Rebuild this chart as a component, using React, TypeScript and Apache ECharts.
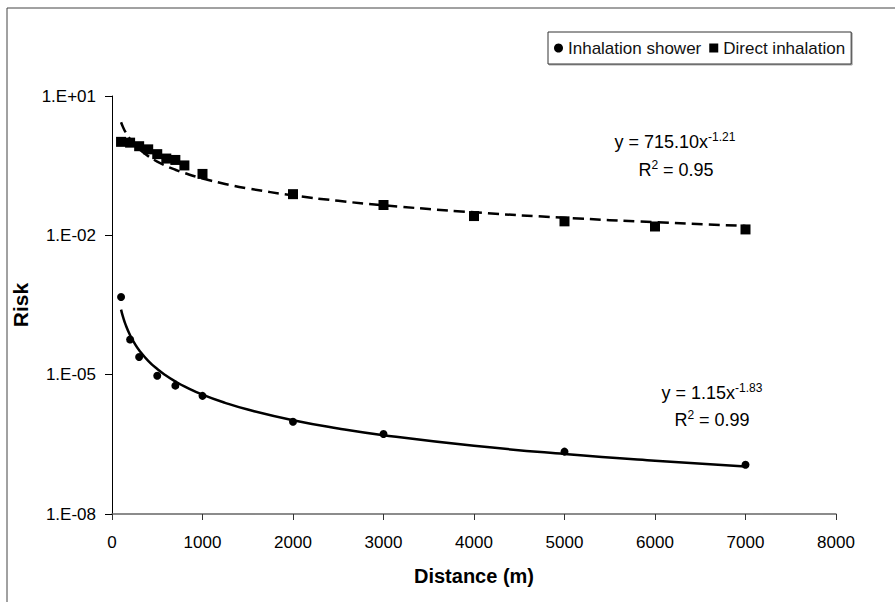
import React, { useEffect, useRef } from "react";
import * as echarts from "echarts";

// Data
const showerDistance = [100, 200, 300, 500, 700, 1000, 2000, 3000, 5000, 7000];
const showerRisk = [4.7e-4, 5.7e-5, 2.4e-5, 9.5e-6, 5.8e-6, 3.5e-6, 9.7e-7, 5.3e-7, 2.2e-7, 1.15e-7];

const directDistance = [100, 200, 300, 400, 500, 600, 700, 800, 1000, 2000, 3000, 4000, 5000, 6000, 7000];
const directRisk = [1.03, 0.99, 0.83, 0.71, 0.56, 0.45, 0.42, 0.32, 0.21, 0.077, 0.045, 0.026, 0.02, 0.0155, 0.0134];

// Power trendlines as printed on the chart: y = a * x^b
const showerFit = { a: 1.15, b: -1.83 };
const directFit = { a: 715.1, b: -1.21 };
const trendX = [100, 120, 150, 200, 250, 300, 400, 500, 600, 700, 800, 1000, 1250, 1500, 2000, 2500, 3000, 4000, 5000, 6000, 7000];

const yTicks = [1e-8, 1e-5, 1e-2, 10];
const seriesNames = ["Inhalation shower", "Direct inhalation"];

const FONT = "Liberation Sans, Arial, sans-serif";

function fmtLog(v: number): string {
  const e = Math.round(Math.log10(v));
  return "1.E" + (e >= 0 ? "+" : "-") + String(Math.abs(e)).padStart(2, "0");
}

export default function App() {
  const ref = useRef<HTMLDivElement>(null);
  useEffect(() => {
    if (!ref.current) return;
    const chart = echarts.init(ref.current, null, { renderer: "svg" });
    const showerData = showerDistance.map((d, i) => [d, showerRisk[i]]);
    const directData = directDistance.map((d, i) => [d, directRisk[i]]);
    const showerTrend = trendX.map((x) => [x, showerFit.a * Math.pow(x, showerFit.b)]);
    const directTrend = trendX.map((x) => [x, directFit.a * Math.pow(x, directFit.b)]);

    const eqRich = {
      a: { fontSize: 18, fontFamily: FONT, color: "#111", lineHeight: 22 },
      s: { fontSize: 12, fontFamily: FONT, color: "#111", verticalAlign: "top", lineHeight: 14 },
    };

    chart.setOption({
      animation: false,
      backgroundColor: "#fff",
      grid: { left: 112, right: 59, top: 96, bottom: 88, containLabel: false },
      legend: {
        left: 548,
        top: 32,
        data: [
          { name: seriesNames[0], icon: "circle" },
          { name: seriesNames[1], icon: "rect" },
        ],
        itemWidth: 9,
        itemHeight: 9,
        itemGap: 8,
        padding: [7, 6, 7, 6],
        borderColor: "#333",
        borderWidth: 1,
        shadowColor: "rgba(0,0,0,0.35)",
        shadowOffsetX: 1,
        shadowOffsetY: 1,
        shadowBlur: 1,
        backgroundColor: "#fff",
        itemStyle: { opacity: 1 },
        textStyle: { fontSize: 17, fontFamily: FONT, color: "#111", lineHeight: 18 },
      },
      xAxis: {
        type: "value",
        min: 0,
        max: 8000,
        interval: 1000,
        name: "Distance (m)",
        nameLocation: "middle",
        nameGap: 52,
        nameTextStyle: { fontSize: 20, fontWeight: "bold", fontFamily: FONT, color: "#000" },
        axisLine: { show: true, lineStyle: { color: "#666", width: 1.5 } },
        axisTick: { show: true, length: 6, lineStyle: { color: "#333" } },
        axisLabel: { fontSize: 17, fontFamily: FONT, color: "#000", margin: 20, formatter: (v: number) => String(v) },
        splitLine: { show: false },
      },
      yAxis: {
        type: "log",
        logBase: 10,
        min: 1e-8,
        max: 10,
        name: "Risk",
        nameLocation: "middle",
        nameGap: 77,
        nameTextStyle: { fontSize: 21, fontWeight: "bold", fontFamily: FONT, color: "#000" },
        axisLine: { show: true, lineStyle: { color: "#000", width: 1 } },
        axisTick: { show: true, length: 7, customValues: yTicks, lineStyle: { color: "#000" } },
        axisLabel: {
          fontSize: 17,
          fontFamily: FONT,
          color: "#000",
          margin: 16,
          customValues: yTicks,
          formatter: (v: number) => fmtLog(v),
        },
        splitLine: { show: false },
      },
      series: [
        {
          name: seriesNames[0],
          type: "scatter",
          symbol: "circle",
          symbolSize: 8,
          itemStyle: { color: "#000", opacity: 1 },
          data: showerData,
          z: 3,
        },
        {
          name: seriesNames[1],
          type: "scatter",
          symbol: "rect",
          symbolSize: 10,
          itemStyle: { color: "#000", opacity: 1 },
          data: directData,
          z: 3,
        },
        {
          name: "shower-trend",
          type: "line",
          showSymbol: false,
          symbol: "none",
          smooth: true,
          lineStyle: { color: "#000", width: 2.5 },
          data: showerTrend,
          z: 2,
        },
        {
          name: "direct-trend",
          type: "line",
          showSymbol: false,
          symbol: "none",
          smooth: true,
          lineStyle: { color: "#000", width: 2.5, type: [11, 6] },
          data: directTrend,
          z: 2,
        },
      ],
      graphic: [
        {
          type: "rect",
          shape: { x: 7, y: 8, width: 1000, height: 1000 },
          style: { fill: "none", stroke: "#444", lineWidth: 1 },
          silent: true,
          z: -1,
        },
        {
          type: "text",
          x: 675,
          y: 142,
          style: { text: "{a|y = 715.10x}{s|-1.21}", rich: eqRich, align: "center", verticalAlign: "middle" },
        },
        {
          type: "text",
          x: 676,
          y: 170,
          style: { text: "{a|R}{s|2}{a| = 0.95}", rich: eqRich, align: "center", verticalAlign: "middle" },
        },
        {
          type: "text",
          x: 712,
          y: 393,
          style: { text: "{a|y = 1.15x}{s|-1.83}", rich: eqRich, align: "center", verticalAlign: "middle" },
        },
        {
          type: "text",
          x: 712,
          y: 420,
          style: { text: "{a|R}{s|2}{a| = 0.99}", rich: eqRich, align: "center", verticalAlign: "middle" },
        },
      ],
    });
    return () => chart.dispose();
  }, []);
  return (
    <div
      ref={ref}
      style={{ position: "fixed", left: 0, top: 0, width: 895, height: 602, background: "#fff" }}
    />
  );
}
